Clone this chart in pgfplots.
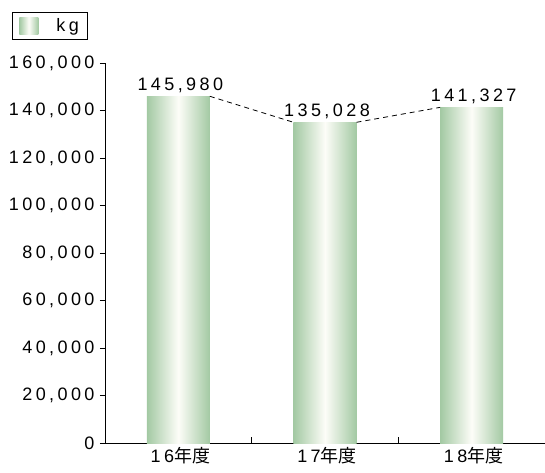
\documentclass[border=0pt]{standalone}
\usepackage{pgfplots}
\pgfplotsset{compat=1.18}
\usepackage{fontspec}
\setmainfont{Liberation Sans}
\newfontfamily\lbl{Liberation Sans}[LetterSpace=19]
\newfontfamily\cjk{Noto Sans CJK JP}
\definecolor{barg}{HTML}{A3C9A3}
\definecolor{barw}{HTML}{FDFDF8}
\pgfplotsset{gbar/.style={ybar, bar width=63bp, bar shift=0pt, draw=none,
    left color=barg, right color=barg, middle color=barw,
    point meta=explicit symbolic, nodes near coords}}
\begin{document}
\begin{tikzpicture}
\begin{axis}[
  scale only axis,
  width=440bp, height=380bp,
  xmin=-0.5, xmax=2.5,
  ymin=0, ymax=160000,
  axis lines*=left,
  axis line style={black, line width=0.8bp},
  xtick={0,1,2},
  xticklabels={{\lbl 16\cjk 年度},{\lbl 17\cjk 年度},{\lbl 18\cjk 年度}},
  minor xtick={0.5,1.5},
  x tick style={draw=none},
  minor x tick style={draw=black, line width=0.8bp},
  minor tick length=6bp,
  ytick={0,20000,40000,60000,80000,100000,120000,140000,160000},
  yticklabels={0,{20,000},{40,000},{60,000},{80,000},{100,000},{120,000},{140,000},{160,000}},
  ytick align=outside,
  y tick style={black, line width=0.8bp},
  major tick length=5bp,
  yticklabel style={font=\fontsize{18bp}{20bp}\lbl, xshift=-2bp},
  xticklabel style={font=\fontsize{18bp}{20bp}\lbl, yshift=-1bp, xshift=2bp},
  scaled y ticks=false,
  clip=false,
  legend style={at={(-0.2114,1.134)}, anchor=north west, draw=black, line width=0.8bp,
    font=\fontsize{18bp}{20bp}\lbl, inner xsep=7bp, inner ysep=4bp},
  legend image code/.code={\shade[left color=barg, right color=barg, middle color=barw, draw=none] (0bp,-8.5bp) rectangle (19bp,8.5bp);},
  nodes near coords style={font=\fontsize{18bp}{20bp}\lbl, anchor=south, yshift=0bp, xshift=2bp},
]
\addplot[gbar] coordinates {(0,145980) [{145,980}]};
\addlegendentry{\hspace*{16bp}kg}
\addplot[gbar, forget plot] coordinates {(1,135028) [{135,028}]};
\addplot[gbar, forget plot] coordinates {(2,141327) [{141,327}]};
\addplot[draw=black, line width=0.8bp, dash pattern=on 5bp off 4bp, forget plot]
  coordinates {(0.2148,145980) (0.7852,135028)};
\addplot[draw=black, line width=0.8bp, dash pattern=on 5bp off 4bp, forget plot]
  coordinates {(1.2148,135028) (1.7852,141327)};
\end{axis}
\path (current axis.south west) ++(-105bp,-30bp) coordinate (A);
\path (current axis.north east) ++(0bp,63bp) coordinate (B);
\pgfresetboundingbox
\useasboundingbox (A) rectangle (B);
\end{tikzpicture}
\end{document}
